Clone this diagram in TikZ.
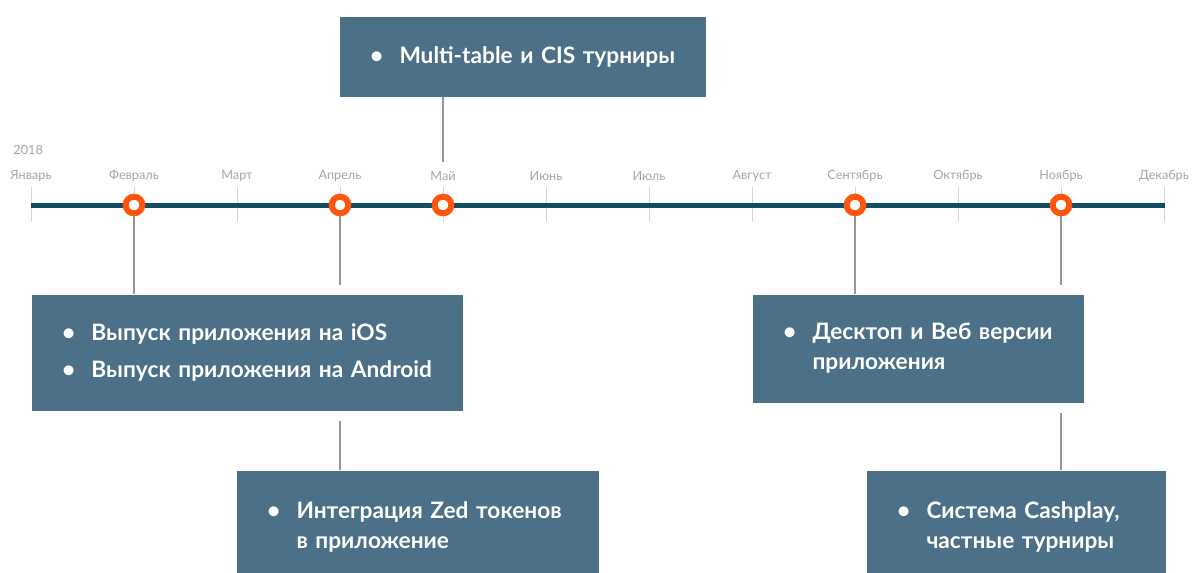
\documentclass[tikz,border=0pt]{standalone}
\usepackage{fontspec}
\setmainfont{Lato}

\definecolor{boxblue}{RGB}{75,112,135}
\definecolor{linenavy}{RGB}{18,77,99}
\definecolor{ringorange}{RGB}{255,85,15}
\definecolor{monthgray}{RGB}{165,165,165}
\definecolor{tickgray}{RGB}{212,212,212}
\definecolor{stemgray}{RGB}{150,150,150}

\tikzset{every picture/.style={line width=0.75pt}}
\tikzset{
	card/.style={fill=boxblue, text=white, anchor=north west, inner xsep=0pt, inner ysep=0pt, font=\bfseries\fontsize{17}{22.5}\selectfont},
	halo/.style={preaction={draw=white, line width=15pt}},
	ring/.style={circle, draw=ringorange, fill=white, line width=4.5pt, minimum size=12.5pt, inner sep=0pt},
	month/.style={text=monthgray, font=\fontsize{9.5}{11}\selectfont, inner sep=0.75pt},
	stem/.style={draw=stemgray, line width=1pt}
}
\newcommand{\karte}[1]{\leftskip=45pt\rightskip=0pt plus 1fil\parindent=0pt\noindent #1\par}
\newcommand{\punkt}{\leavevmode\llap{\makebox[22pt][l]{\textbullet}}}

\begin{document}
\begin{tikzpicture}[x=0.75pt,y=0.75pt,yscale=-1,xscale=1]
	\useasboundingbox (0,0) rectangle (1192,572);
	
	%Month Ticks and Labels
	\foreach \m [count=\i, evaluate=\i as \x using 31+(\i-1)*103] in {Январь,Февраль,Март,Апрель,Май,Июнь,Июль,Август,Сентябрь,Октябрь,Ноябрь,Декабрь} {
		\draw [tickgray] (\x,187) -- (\x,222) ;
		\node [month] (m\i) at (\x,176) {\m};
	}
	% Text Node
	\node [month, anchor=west] (year) at (12,150) {2018};
	
	%Timeline
	\draw [linenavy, line width=3.75pt] (31,205) -- (1165,205) ;
	
	%Events
	\node [ring] (feb) at (134,205) {};
	\node [ring] (apr) at (340,205) {};
	\node [ring] (may) at (443,205) {};
	\node [ring] (sep) at (855,205) {};
	\node [ring] (nov) at (1061,205) {};
	\coordinate (mayend) at (443,162);
	
	%Long Stems (behind boxes)
	\node [card, text width=271.5pt, minimum height=84pt] (zed) at (236,470) {\karte{\punkt Интеграция Zed токенов\\в приложение}};
	\node [card, text width=224.25pt, minimum height=84pt] (cash) at (866,470) {\karte{\punkt Система Cashplay,\\частные турниры}};
	\draw [stem] (apr.south) -- (apr |- zed.north) ;
	\draw [stem] (nov.south) -- (nov |- cash.north) ;
	
	%Boxes
	\node [card, halo, text width=323.25pt, minimum height=87pt] (ios) at (31,294) {\karte{\punkt Выпуск приложения на iOS\\[5.25pt]\punkt Выпуск приложения на Android}};
	\node [card, halo, text width=248.25pt, minimum height=81pt] (desk) at (752,294) {\karte{\punkt Десктоп и Веб версии\\приложения}};
	\node [card, text width=274.5pt, minimum height=60pt] (multi) at (339,16) {\karte{\punkt Multi-table и CIS турниры}};
	
	%Short Stems
	\draw [stem] (feb.south) -- (feb |- ios.north) ;
	\draw [stem] (sep.south) -- (sep |- desk.north) ;
	\draw [stem] (may |- multi.south) -- (mayend) ;
	
\end{tikzpicture}
\end{document}
